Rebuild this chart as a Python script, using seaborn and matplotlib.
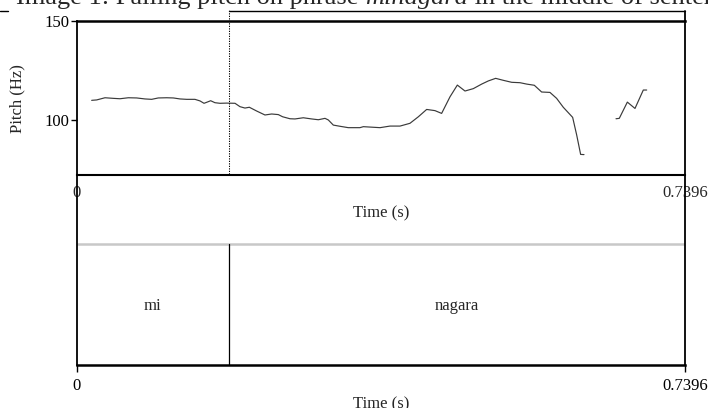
import numpy as np
import pandas as pd
import matplotlib
matplotlib.use("Agg")
import matplotlib.pyplot as plt
import matplotlib.transforms as mtransforms
from matplotlib.lines import Line2D
import seaborn as sns

# ---------------- data ----------------
seg1_time = [0.0182, 0.0243, 0.0344, 0.0445, 0.0526, 0.0628, 0.0729, 0.0830, 0.0911, 0.0992,
             0.1094, 0.1175, 0.1256, 0.1337, 0.1438, 0.1499, 0.1548, 0.1580, 0.1629, 0.1681,
             0.1742, 0.1823, 0.1925, 0.1985, 0.2046, 0.2099, 0.2188, 0.2289, 0.2370, 0.2451,
             0.2504, 0.2593, 0.2654, 0.2755, 0.2857, 0.2938, 0.3019, 0.3059, 0.3120, 0.3201,
             0.3302, 0.3444, 0.3485, 0.3566, 0.3688, 0.3809, 0.3931, 0.4052, 0.4154, 0.4255,
             0.4356, 0.4437, 0.4539, 0.4628, 0.4721, 0.4822, 0.4924, 0.5005, 0.5094, 0.5187,
             0.5289, 0.5390, 0.5471, 0.5564, 0.5653, 0.5754, 0.5835, 0.5916, 0.6030, 0.6079,
             0.6127, 0.6168]
seg1_pitch = [110.1, 110.3, 111.4, 111.1, 110.9, 111.4, 111.3, 110.8, 110.6, 111.3,
              111.4, 111.3, 110.8, 110.6, 110.6, 109.8, 108.6, 109.1, 109.9, 108.9,
              108.6, 108.7, 108.6, 106.9, 106.2, 106.6, 104.7, 102.7, 103.2, 102.9,
              101.8, 100.8, 100.7, 101.3, 100.7, 100.3, 101.0, 100.2, 97.6, 97.0,
              96.3, 96.3, 96.8, 96.6, 96.3, 97.1, 97.1, 98.5, 101.8, 105.5,
              104.9, 103.5, 111.9, 117.8, 114.8, 116.0, 118.3, 119.9, 121.2, 120.2,
              119.2, 119.0, 118.3, 117.7, 114.3, 114.1, 111.1, 106.6, 101.5, 92.6,
              82.8, 82.7]
seg2_time = [0.6557, 0.6597, 0.6695, 0.6788, 0.6889, 0.6930]
seg2_pitch = [100.8, 101.0, 109.2, 106.0, 115.3, 115.3]

duration = 0.7396
pitch_min, pitch_max = 72.4, 150
pitch_ticks = [100, 150]
boundaries = [0.0, 0.1847, 0.7396]
tier_labels = ["mi", "nagara"]

df = pd.DataFrame({
    "time": seg1_time + seg2_time,
    "pitch": seg1_pitch + seg2_pitch,
    "seg": [1] * len(seg1_time) + [2] * len(seg2_time),
})

# ---------------- style ----------------
sns.set_style("white")
plt.rcParams["font.family"] = ["Liberation Serif", "DejaVu Serif"]
FS = 12
LINE = "black"

W, H = 708, 408
fig = plt.figure(figsize=(W / 100, H / 100), dpi=100)

def fx(px):
    return px / W

def fy(py):
    return 1 - py / H

left_px, right_px = 76.7, 685.0
ptop_px, pbot_px, lbot_px = 21.3, 175.0, 365.0

ax_p = fig.add_axes([fx(left_px), fy(pbot_px), fx(right_px) - fx(left_px), fy(ptop_px) - fy(pbot_px)])
ax_l = fig.add_axes([fx(left_px), fy(lbot_px), fx(right_px) - fx(left_px), fy(pbot_px) - fy(lbot_px)])

# pitch curve
sns.lineplot(data=df, x="time", y="pitch", units="seg", estimator=None, sort=False,
             color="#3a3a3a", linewidth=0.85, ax=ax_p, legend=False)
ax_p.set_xlim(0, duration)
ax_p.set_ylim(pitch_min, pitch_max)
ax_p.set_xticks([])
ax_p.set_yticks(pitch_ticks)
ax_p.set_yticklabels([str(t) for t in pitch_ticks], fontsize=FS)
ax_p.tick_params(axis="y", direction="out", length=4, width=1.0, pad=1, left=True, colors=LINE)
ax_p.set_xlabel("")
ax_p.set_ylabel("Pitch (Hz)", fontsize=FS, labelpad=14)
for s in ax_p.spines.values():
    s.set_visible(True)
    s.set_color(LINE)
    s.set_linewidth(1.3)
ax_p.spines["top"].set_linewidth(1.8)

# dotted boundary line spanning pitch panel and upper part of lower panel
ph = pbot_px - ptop_px
ax_p.axvline(boundaries[1], ymin=(pbot_px - 244) / ph, ymax=(pbot_px - 10) / ph,
             clip_on=False, color=LINE, linestyle=(0, (1.2, 1.2)), linewidth=0.75)
# outer frame line at the top
blend = mtransforms.blended_transform_factory(ax_p.transData, ax_p.transAxes)
ytop = (pbot_px - 10.5) / ph
ax_p.plot([boundaries[1], duration], [ytop, ytop], transform=blend, clip_on=False,
          color=LINE, linewidth=1.0)
ax_p.plot([duration, duration], [1, ytop], transform=blend, clip_on=False,
          color=LINE, linewidth=1.3)
fig.add_artist(Line2D([0, fx(8)], [fy(10.7), fy(10.7)], color=LINE, linewidth=1.0))

# lower panel (time axis + TextGrid tier)
lh = lbot_px - pbot_px
def ly(py):
    return (lbot_px - py) / lh

ax_l.set_xlim(0, duration)
ax_l.set_ylim(0, 1)
ax_l.set_yticks([])
for s in ax_l.spines.values():
    s.set_visible(True)
    s.set_color(LINE)
    s.set_linewidth(1.3)
ax_l.spines["bottom"].set_linewidth(1.8)
ax_l.spines["top"].set_linewidth(1.5)

ax_l.axhline(ly(244), color="#c8c8c8", linewidth=1.8)
for b in boundaries[1:-1]:
    ax_l.axvline(b, ymin=0, ymax=ly(244), color=LINE, linewidth=0.9)

for i, lab in enumerate(tier_labels):
    mid = (boundaries[i] + boundaries[i + 1]) / 2
    ax_l.text(mid, ly(310), lab, ha="center", va="baseline", fontsize=FS)

# time labels of the pitch drawing
ax_l.text(0, ly(197), "0", ha="center", va="baseline", fontsize=FS, zorder=0)
ax_l.text(duration, ly(197), f"{duration:g}", ha="center", va="baseline", fontsize=FS, zorder=0)
ax_l.text(duration / 2, ly(217), "Time (s)", ha="center", va="baseline", fontsize=FS)

ax_l.set_xticks([0, duration])
ax_l.set_xticklabels(["0", f"{duration:g}"], fontsize=FS)
ax_l.tick_params(axis="x", direction="out", length=5, width=1.0, pad=4, bottom=True, colors=LINE)
ax_l.set_xlabel("Time (s)", fontsize=FS, labelpad=2)

# cropped title (only its lower part shows, as in the reference)
fig.canvas.draw()
r = fig.canvas.get_renderer()
TFS = 19
x0 = fx(16)
yb = fy(4)
parts = [("Image 1: Falling pitch on phrase ", "normal"), ("minagara", "italic"),
         (" in the middle of sentence", "normal")]
for txt, style in parts:
    t = fig.text(x0, yb, txt, fontsize=TFS, fontstyle=style, ha="left", va="baseline")
    bb = t.get_window_extent(renderer=r)
    x0 = fig.transFigure.inverted().transform((bb.x1, bb.y0))[0]

fig.savefig("out.png", dpi=100)
